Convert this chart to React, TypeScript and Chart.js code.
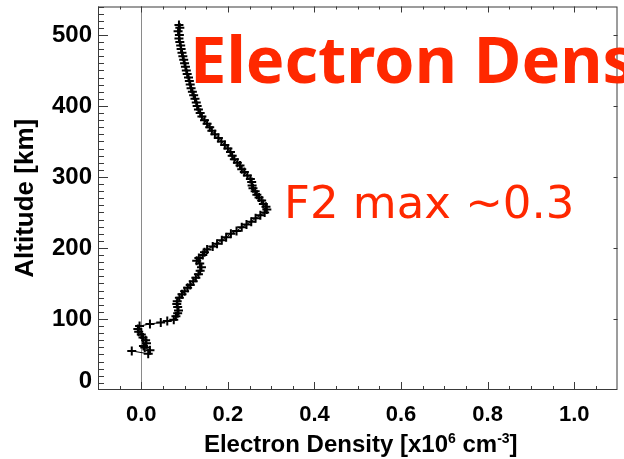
import React, { useEffect, useRef } from "react";
import { Chart, registerables } from "chart.js";

Chart.register(...registerables);

// Electron density profile: altitude [km] and density [x10^6 cm^-3]
const altitudeKm = [
  55, 51, 56, 60, 62, 66, 70, 74, 78, 82, 86, 90,
  93, 95, 97, 99, 104, 108, 112, 117, 121, 125, 130, 135,
  139, 144, 148, 153, 158, 163, 168, 173, 178, 182, 186, 190,
  194, 198, 202, 206, 211, 215, 220, 224, 229, 233, 237, 242,
  246, 250, 254, 258, 262, 267, 271, 275, 280, 284, 288, 293,
  297, 302, 307, 311, 316, 320, 325, 330, 335, 340, 345, 350,
  355, 360, 365, 370, 375, 380, 385, 390, 395, 400, 405, 410,
  415, 420, 425, 430, 435, 440, 445, 450, 455, 460, 465, 470,
  475, 480, 485, 490, 495, 500, 505, 510, 514,
];
const densityE6 = [
  -0.022, 0.016, 0.02, 0.008, 0.005, 0.012, 0.01, 0.004, 0.0, -0.006, -0.008, -0.004,
  0.02, 0.045, 0.06, 0.075, 0.08, 0.084, 0.086, 0.084, 0.082, 0.083, 0.088, 0.094,
  0.1, 0.107, 0.113, 0.12, 0.126, 0.132, 0.136, 0.139, 0.135, 0.128, 0.133, 0.142,
  0.146, 0.152, 0.165, 0.175, 0.186, 0.196, 0.207, 0.22, 0.232, 0.243, 0.254, 0.264,
  0.275, 0.285, 0.29, 0.288, 0.282, 0.278, 0.272, 0.267, 0.263, 0.258, 0.256, 0.255,
  0.252, 0.245, 0.238, 0.232, 0.228, 0.222, 0.215, 0.21, 0.206, 0.2, 0.193, 0.185,
  0.178, 0.17, 0.163, 0.158, 0.152, 0.146, 0.14, 0.136, 0.132, 0.129, 0.127, 0.124,
  0.121, 0.118, 0.115, 0.113, 0.111, 0.109, 0.106, 0.104, 0.102, 0.1, 0.098, 0.096,
  0.094, 0.092, 0.091, 0.089, 0.087, 0.088, 0.085, 0.089, 0.087,
];

const xTickValues = [0, 0.2, 0.4, 0.6, 0.8, 1.0];
const yTickValues = [0, 100, 200, 300, 400, 500];
const xRange = [-0.1, 1.1];
const yRange = [0, 540];

const titleText = "Electron Density";
const annotationText = "F2 max ~0.3";
const yTitleText = "Altitude [km]";
const xTitleParts = [
  { text: "Electron Density [x10", sup: false },
  { text: "6", sup: true },
  { text: " cm", sup: false },
  { text: "-3", sup: true },
  { text: "]", sup: false },
];

const RED = "#ff2800";
const AXIS = "#3a3a3a";
const SANS = '"Liberation Sans", Arial, Helvetica, sans-serif';

const overlayPlugin = {
  id: "overlay",
  beforeDatasetsDraw(chart: any) {
    const ctx = chart.ctx;
    const { top, bottom } = chart.chartArea;
    const xs = chart.scales.x;
    const x0 = Math.round(xs.getPixelForValue(0)) + 0.5;
    ctx.save();
    ctx.strokeStyle = "#8a8a8a";
    ctx.lineWidth = 1;
    ctx.beginPath();
    ctx.moveTo(x0, top);
    ctx.lineTo(x0, bottom);
    ctx.stroke();
    ctx.restore();
  },
  afterDraw(chart: any) {
    const ctx = chart.ctx;
    const { left, right, top, bottom } = chart.chartArea;
    const xs = chart.scales.x;
    const ys = chart.scales.y;
    ctx.save();
    // frame
    ctx.strokeStyle = AXIS;
    ctx.lineWidth = 1;
    ctx.strokeRect(left + 0.5, top + 0.5, right - left - 1, bottom - top - 1);

    // x ticks (bottom & top), minor every 0.05
    ctx.beginPath();
    for (let i = -2; i <= 22; i++) {
      const v = i * 0.05;
      const px = Math.round(xs.getPixelForValue(v)) + 0.5;
      if (px < left || px > right) continue;
      const major = i % 4 === 0;
      const lb = major ? 8 : 4;
      const lt = major ? 6 : 3;
      ctx.moveTo(px, bottom);
      ctx.lineTo(px, bottom - lb);
      ctx.moveTo(px, top);
      ctx.lineTo(px, top + lt);
    }
    // y ticks (left, minor every 10), right majors only
    for (let i = 0; i <= 54; i++) {
      const v = i * 10;
      const py = Math.round(ys.getPixelForValue(v)) + 0.5;
      if (py < top || py > bottom) continue;
      const major = i % 10 === 0;
      ctx.moveTo(left, py);
      ctx.lineTo(left + (major ? 10 : 6), py);
      if (major) {
        ctx.moveTo(right, py);
        ctx.lineTo(right - 4, py);
      }
    }
    ctx.stroke();

    // x axis title with superscripts
    const mainFont = `bold 24px ${SANS}`;
    const supFont = `bold 14px ${SANS}`;
    let total = 0;
    for (const p of xTitleParts) {
      ctx.font = p.sup ? supFont : mainFont;
      total += ctx.measureText(p.text).width;
    }
    let cx = (left + right) / 2 - total / 2 + 3;
    const base = 452;
    ctx.fillStyle = "#000";
    ctx.textAlign = "left";
    ctx.textBaseline = "alphabetic";
    for (const p of xTitleParts) {
      ctx.font = p.sup ? supFont : mainFont;
      ctx.fillText(p.text, cx, p.sup ? base - 9 : base);
      cx += ctx.measureText(p.text).width;
    }

    // y axis title
    ctx.save();
    ctx.translate(33, (top + bottom) / 2);
    ctx.rotate(-Math.PI / 2);
    ctx.font = `bold 26px ${SANS}`;
    ctx.textAlign = "center";
    ctx.fillText(yTitleText, 0, 0);
    ctx.restore();

    // red overlay texts
    ctx.fillStyle = RED;
    ctx.textAlign = "left";
    ctx.font = `bold 65px "Noto Sans", "DejaVu Sans", sans-serif`;
    ctx.fillText(titleText, 190, 83);
    ctx.font = `45px "DejaVu Sans", sans-serif`;
    ctx.fillText(annotationText, 284, 218);
    ctx.restore();
  },
};

export default function App() {
  const ref = useRef<HTMLCanvasElement | null>(null);

  useEffect(() => {
    if (!ref.current) return;
    const points = altitudeKm.map((a, i) => ({ x: densityE6[i], y: a }));
    const chart = new Chart(ref.current, {
      type: "line",
      data: {
        datasets: [
          {
            data: points,
            borderColor: "#000",
            borderWidth: 1,
            pointStyle: "cross",
            pointRadius: 4.5,
            pointBorderWidth: 2,
            pointBorderColor: "#000",
            pointBackgroundColor: "#000",
            tension: 0,
            fill: false,
          },
        ],
      },
      options: {
        responsive: false,
        animation: false,
        events: [],
        layout: { padding: { top: 6, right: 2, left: 0, bottom: 0 } },
        plugins: {
          legend: { display: false },
          tooltip: { enabled: false },
          title: { display: false },
        },
        scales: {
          x: {
            type: "linear",
            min: xRange[0],
            max: xRange[1],
            grid: { display: false, drawTicks: false },
            border: { display: false },
            ticks: {
              padding: 12,
              color: "#000",
              font: { family: SANS, weight: "bold", size: 22 },
              callback: (v: any) => Number(v).toFixed(1),
            },
            afterBuildTicks: (s: any) => {
              s.ticks = xTickValues.map((v) => ({ value: v }));
            },
            afterFit: (s: any) => {
              s.height = 69;
              s.paddingLeft = 0;
              s.paddingRight = 0;
            },
          },
          y: {
            type: "linear",
            min: yRange[0],
            max: yRange[1],
            grid: { display: false, drawTicks: false },
            border: { display: false },
            ticks: {
              padding: 6,
              color: "#000",
              font: (c: any) =>
                c.tick && c.tick.value === 0
                  ? { family: SANS, weight: "bold", size: 24, lineHeight: "18px" }
                  : { family: SANS, weight: "bold", size: 24 },
              callback: (v: any) => (Number(v) === 0 ? ["0", ""] : String(v)),
            },
            afterBuildTicks: (s: any) => {
              s.ticks = yTickValues.map((v) => ({ value: v }));
            },
            afterFit: (s: any) => {
              s.width = 98;
              s.paddingTop = 0;
              s.paddingBottom = 0;
            },
          },
        },
      },
      plugins: [overlayPlugin],
    });
    return () => chart.destroy();
  }, []);

  return (
    <div style={{ position: "absolute", left: 0, top: 0, width: 624, height: 459, background: "#fff" }}>
      <canvas ref={ref} width={624} height={459} style={{ display: "block" }} />
    </div>
  );
}
